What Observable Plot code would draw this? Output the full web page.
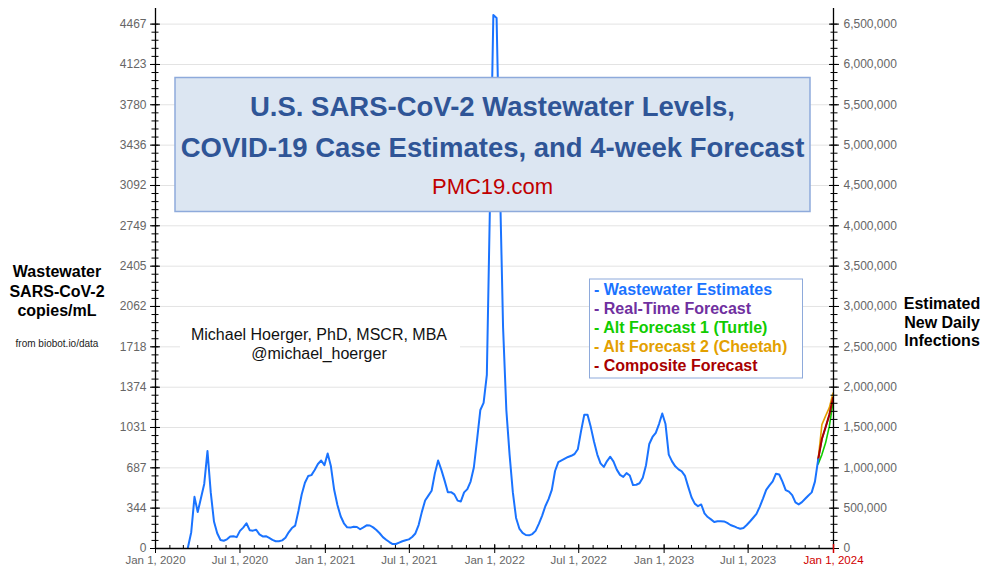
<!DOCTYPE html>
<html><head><meta charset="utf-8">
<script src="https://cdn.jsdelivr.net/npm/d3@7"></script>
<script src="https://cdn.jsdelivr.net/npm/@observablehq/plot@0.6"></script>
<style>
body{margin:0;background:#fff;font-family:Arial,"Liberation Sans",sans-serif}
#wrap{position:relative;width:986px;height:567px}
</style></head><body><div id="wrap"></div>
<script>
// ---- data ----
const weekStart = "2020-03-11"; // first weekly wastewater estimate
const wastewater = [
  10,139,440,310,430,550,830,480,230,130,
  72,66,78,102,105,97,150,178,215,156,
  152,160,120,103,105,90,73,62,62,69,
  91,138,174,195,320,460,560,617,625,668,
  720,750,710,810,700,500,370,275,215,180,
  178,186,183,164,180,197,196,180,157,130,
  97,75,55,38,38,50,62,70,78,98,
  128,200,312,409,450,492,640,750,670,578,
  480,480,461,408,401,478,506,570,690,930,
  1180,1240,1480,2990,4544,4520,3150,1880,1180,800,
  480,260,170,133,115,112,123,150,210,278,
  360,420,500,660,735,750,765,780,790,805,
  845,1000,1140,1140,1034,910,800,725,695,745,
  782,740,672,627,610,642,622,540,543,556,
  603,710,890,950,985,1060,1150,1060,800,742,
  700,674,657,618,525,437,382,360,375,300,
  268,248,225,232,233,231,218,200,190,178,
  168,175,200,230,262,295,355,425,500,537,
  572,637,630,570,498,485,455,393,376,395,
  424,452,478,570,760
];
const forecastDates = ["2023-11-29","2023-12-07","2023-12-15","2023-12-23","2023-12-31"];
const realTimeForecast = [760, 930, 1030, 1135, 1280];
const turtleForecast   = [720, 800, 900, 1040, 1250];
const cheetahForecast  = [760, 1055, 1130, 1200, 1325];
const compositeForecast= [760, 935, 1035, 1140, 1285];

const leftTicks = [0,344,687,1031,1374,1718,2062,2405,2749,3092,3436,3780,4123,4467];
const rightTicks = [0,500000,1000000,1500000,2000000,2500000,3000000,3500000,4000000,4500000,5000000,5500000,6000000,6500000];
const xTickDates = ["2020-01-01","2020-07-01","2021-01-01","2021-07-01","2022-01-01","2022-07-01","2023-01-01","2023-07-01","2024-01-01"];

const legendItems = ["- Wastewater Estimates","- Real-Time Forecast","- Alt Forecast 1 (Turtle)","- Alt Forecast 2 (Cheetah)","- Composite Forecast"];
const legendColors = ["#1a73ff","#7030a0","#11cc00","#e3a000","#a80000"];

// ---- build ----
const ratio = 6500000 / 4467;
const x0 = new Date("2020-01-01"), x1 = new Date("2024-01-01");
const start = new Date(weekStart);
const ww = wastewater.map((v, i) => ({date: d3.utcDay.offset(start, 7 * i), v}));
const fc = arr => arr.map((v, i) => ({date: new Date(forecastDates[i]), v}));
const xMajor = xTickDates.map(d => new Date(d));
const months = d3.utcMonth.range(x0, d3.utcDay.offset(x1, 1));
const yMinor = d3.range(0, 66).map(i => i * 4467 / 65);
const rightPos = rightTicks.map(v => v / ratio);
const blank = () => "";
const fmtDate = d3.utcFormat("%b %-d, %Y");

const chart = Plot.plot({
  width: 986, height: 567,
  marginLeft: 155, marginRight: 153, marginTop: 8, marginBottom: 19,
  style: {fontFamily: "Arial, 'Liberation Sans', sans-serif", fontSize: "12px", color: "#666", background: "#fff", overflow: "visible"},
  x: {type: "utc", domain: [x0, x1], label: null},
  y: {domain: [0, 4600], label: null},
  marks: [
    Plot.ruleY(leftTicks.slice(1), {stroke: "#e3e3e3", strokeWidth: 1}),
    Plot.line(fc(realTimeForecast), {x: "date", y: "v", stroke: legendColors[1], strokeWidth: 1.6}),
    Plot.line(fc(turtleForecast), {x: "date", y: "v", stroke: legendColors[2], strokeWidth: 1.6}),
    Plot.line(fc(cheetahForecast), {x: "date", y: "v", stroke: legendColors[3], strokeWidth: 1.6}),
    Plot.line(fc(compositeForecast), {x: "date", y: "v", stroke: legendColors[4], strokeWidth: 2}),
    Plot.line(ww, {x: "date", y: "v", stroke: legendColors[0], strokeWidth: 2}),
    // axis lines
    Plot.ruleX([x0], {stroke: "#000", strokeWidth: 1.3}),
    Plot.ruleX([x1], {stroke: "#000", strokeWidth: 1.3}),
    Plot.ruleY([0], {stroke: "#000", strokeWidth: 1.3}),
    // left axis
    Plot.axisY(leftTicks, {anchor: "left", tickSize: 0, tickPadding: 9, tickFormat: d => String(d), fill: "#666", fontSize: 12}),
    Plot.axisY(leftTicks, {anchor: "left", tickSize: 10, dx: 5, tickFormat: blank, stroke: "#000"}),
    Plot.axisY(yMinor, {anchor: "left", tickSize: 7, dx: 3.5, tickFormat: blank, stroke: "#000"}),
    // right axis
    Plot.axisY(rightPos, {anchor: "right", tickSize: 0, tickPadding: 10, tickFormat: d => d3.format(",")(Math.round(d * ratio / 1000) * 1000), fill: "#666", fontSize: 12}),
    Plot.axisY(rightPos, {anchor: "right", tickSize: 10, dx: -5, tickFormat: blank, stroke: "#000"}),
    Plot.axisY(yMinor, {anchor: "right", tickSize: 7, dx: -3.5, tickFormat: blank, stroke: "#000"}),
    // bottom axis
    Plot.axisX(xMajor.slice(0, -1), {anchor: "bottom", tickSize: 0, tickPadding: 7, tickFormat: fmtDate, fill: "#666", fontSize: 11.5}),
    Plot.axisX([x1], {anchor: "bottom", tickSize: 0, tickPadding: 7, tickFormat: fmtDate, fill: "#d00000", fontSize: 11.5}),
    Plot.axisX(months, {anchor: "bottom", tickSize: 3, dy: -3, tickFormat: blank, stroke: "#000"}),
    Plot.axisX(xMajor.slice(0, -1), {anchor: "bottom", tickSize: 9, dy: -4, tickFormat: blank, stroke: "#000"}),
    Plot.axisX([x1], {anchor: "bottom", tickSize: 9, dy: -4, tickFormat: blank, stroke: "#d00000", strokeWidth: 1.5})
  ]
});
document.getElementById("wrap").appendChild(chart);

// ---- annotations drawn on top ----
const svg = d3.select(chart);
const ff = "Arial, 'Liberation Sans', sans-serif";
function txt(x, y, s, size, weight, fill, anchor) {
  svg.append("text").attr("x", x).attr("y", y).attr("font-family", ff)
    .attr("font-size", size).attr("font-weight", weight).attr("fill", fill)
    .attr("text-anchor", anchor || "middle").text(s);
}
// title box
svg.append("rect").attr("x", 175).attr("y", 77.5).attr("width", 635).attr("height", 134)
  .attr("fill", "#dce6f2").attr("stroke", "#8eaadb").attr("stroke-width", 1.5);
txt(492.5, 116, "U.S. SARS-CoV-2 Wastewater Levels,", 27.5, "bold", "#2f5597");
txt(492.5, 157, "COVID-19 Case Estimates, and 4-week Forecast", 27.5, "bold", "#2f5597");
txt(492.5, 194, "PMC19.com", 22, "normal", "#c00000");
// legend box
svg.append("rect").attr("x", 589.5).attr("y", 279).attr("width", 213).attr("height", 99)
  .attr("fill", "#fff").attr("stroke", "#8eaadb").attr("stroke-width", 1);
legendItems.forEach((s, i) => txt(594, 295 + i * 19, s, 16, "bold", legendColors[i], "start"));
// author
svg.append("rect").attr("x", 180).attr("y", 321).attr("width", 280).attr("height", 42).attr("fill", "#fff");
txt(319, 340, "Michael Hoerger, PhD, MSCR, MBA", 16, "normal", "#111");
txt(319, 359, "@michael_hoerger", 16, "normal", "#111");
// left axis title
txt(57, 277, "Wastewater", 16, "bold", "#000");
txt(57, 297, "SARS-CoV-2", 16, "bold", "#000");
txt(57, 316, "copies/mL", 16, "bold", "#000");
txt(57, 347, "from biobot.io/data", 10, "normal", "#222");
// right axis title
txt(942, 309, "Estimated", 16, "bold", "#000");
txt(942, 328, "New Daily", 16, "bold", "#000");
txt(942, 346, "Infections", 16, "bold", "#000");
</script></body></html>
